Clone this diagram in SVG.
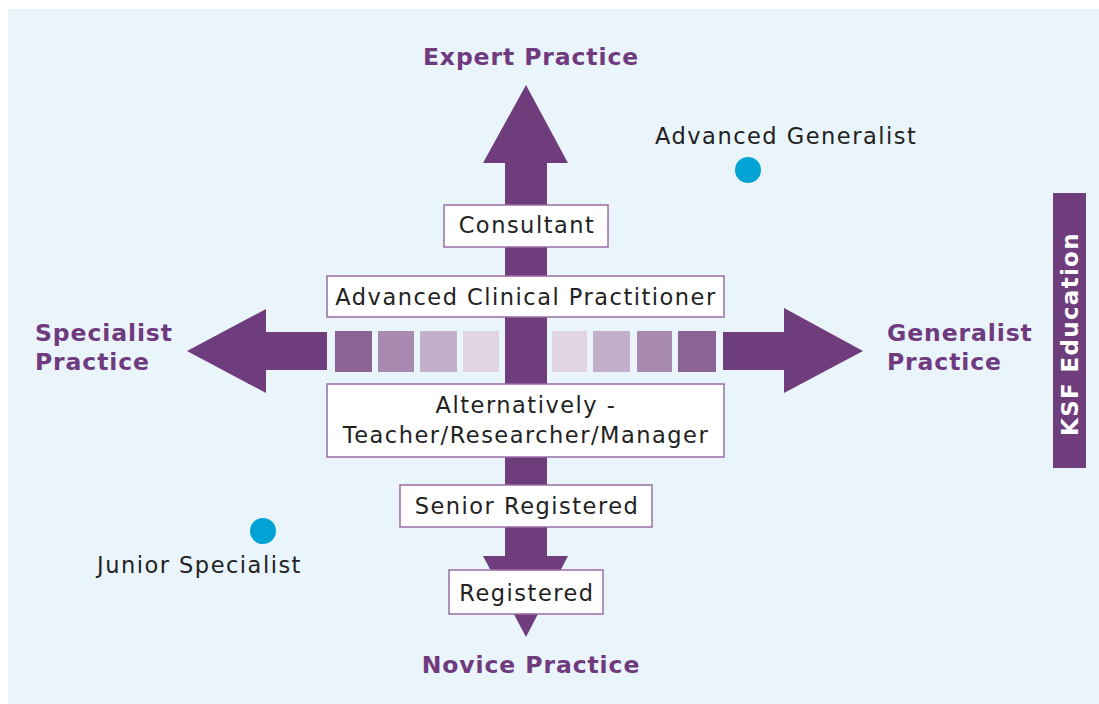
<svg xmlns="http://www.w3.org/2000/svg" width="1099" height="704" viewBox="0 0 1099 704">
<style>
.bg{fill:#E9F4FB}
.arr{fill:#6F3C7C}
.box{fill:#FFFFFF;stroke:#9A6CA7;stroke-width:1.5}
.t{font-family:"DejaVu Sans",Verdana,sans-serif;font-size:22.5px;letter-spacing:1.5px;fill:#222222}
.h{font-family:"DejaVu Sans",Verdana,sans-serif;font-size:23.5px;letter-spacing:0.9px;font-weight:bold;fill:#6F3A7E}
.dot{fill:#00A3D4}
</style>
<rect x="0" y="0" width="1099" height="704" fill="#FFFFFF"/>
<rect class="bg" x="8" y="9" width="1091" height="695"/>
<g id="connectors">
<polygon class="arr" points="526,85 568,163 547,163 547,556 568,556 526,637 483,556 505,556 505,163 483,163"/>
<polygon class="arr" points="187,351 266,309 266,332 327,332 327,370 266,370 266,393"/>
<polygon class="arr" points="863,351 784,308 784,332 723,332 723,370 784,370 784,393"/>
</g>
<g id="scale">
<rect x="335" y="331" width="37" height="41" fill="#8B6496"/>
<rect x="378" y="331" width="36" height="41" fill="#A889B0"/>
<rect x="420" y="331" width="37" height="41" fill="#C4AFCB"/>
<rect x="463" y="331" width="36" height="41" fill="#E1D5E5"/>
<rect x="552" y="331" width="35" height="41" fill="#E1D5E5"/>
<rect x="593" y="331" width="37" height="41" fill="#C4AFCB"/>
<rect x="637" y="331" width="35" height="41" fill="#A889B0"/>
<rect x="678" y="331" width="38" height="41" fill="#8B6496"/>
</g>
<g id="consultant"><rect class="box" x="444" y="205" width="164" height="42"/><text class="t" x="527" y="233" text-anchor="middle">Consultant</text></g>
<g id="acp"><rect class="box" x="327" y="276" width="397" height="41"/><text class="t" x="526" y="305" text-anchor="middle">Advanced Clinical Practitioner</text></g>
<g id="alternatively"><rect class="box" x="327" y="384" width="397" height="73"/><text class="t" x="526" y="413" text-anchor="middle">Alternatively -</text><text class="t" x="526" y="443" text-anchor="middle">Teacher/Researcher/Manager</text></g>
<g id="senior"><rect class="box" x="400" y="485" width="252" height="42"/><text class="t" x="527" y="514" text-anchor="middle">Senior Registered</text></g>
<g id="registered"><rect class="box" x="449" y="570" width="154" height="44"/><text class="t" x="527" y="601" text-anchor="middle">Registered</text></g>
<g id="expert"><text class="h" x="531" y="65" text-anchor="middle">Expert Practice</text></g>
<g id="novice"><text class="h" x="531" y="673" text-anchor="middle">Novice Practice</text></g>
<g id="specialist"><text class="h" x="35" y="341">Specialist</text><text class="h" x="35" y="370">Practice</text></g>
<g id="generalist"><text class="h" x="887" y="341">Generalist</text><text class="h" x="887" y="370">Practice</text></g>
<g id="adv-generalist"><text class="t" x="655" y="144">Advanced Generalist</text><circle class="dot" cx="748" cy="170" r="13"/></g>
<g id="junior-specialist"><text class="t" x="97" y="573">Junior Specialist</text><circle class="dot" cx="263" cy="531" r="13"/></g>
<g id="ksf"><rect x="1053" y="193" width="33" height="275" fill="#6F3C7C"/><text x="0" y="0" transform="translate(1078,334) rotate(-90)" text-anchor="middle" style="font-family:'DejaVu Sans',Verdana,sans-serif;font-size:23px;letter-spacing:1.3px;font-weight:bold;fill:#FFFFFF">KSF Education</text></g>
</svg>
